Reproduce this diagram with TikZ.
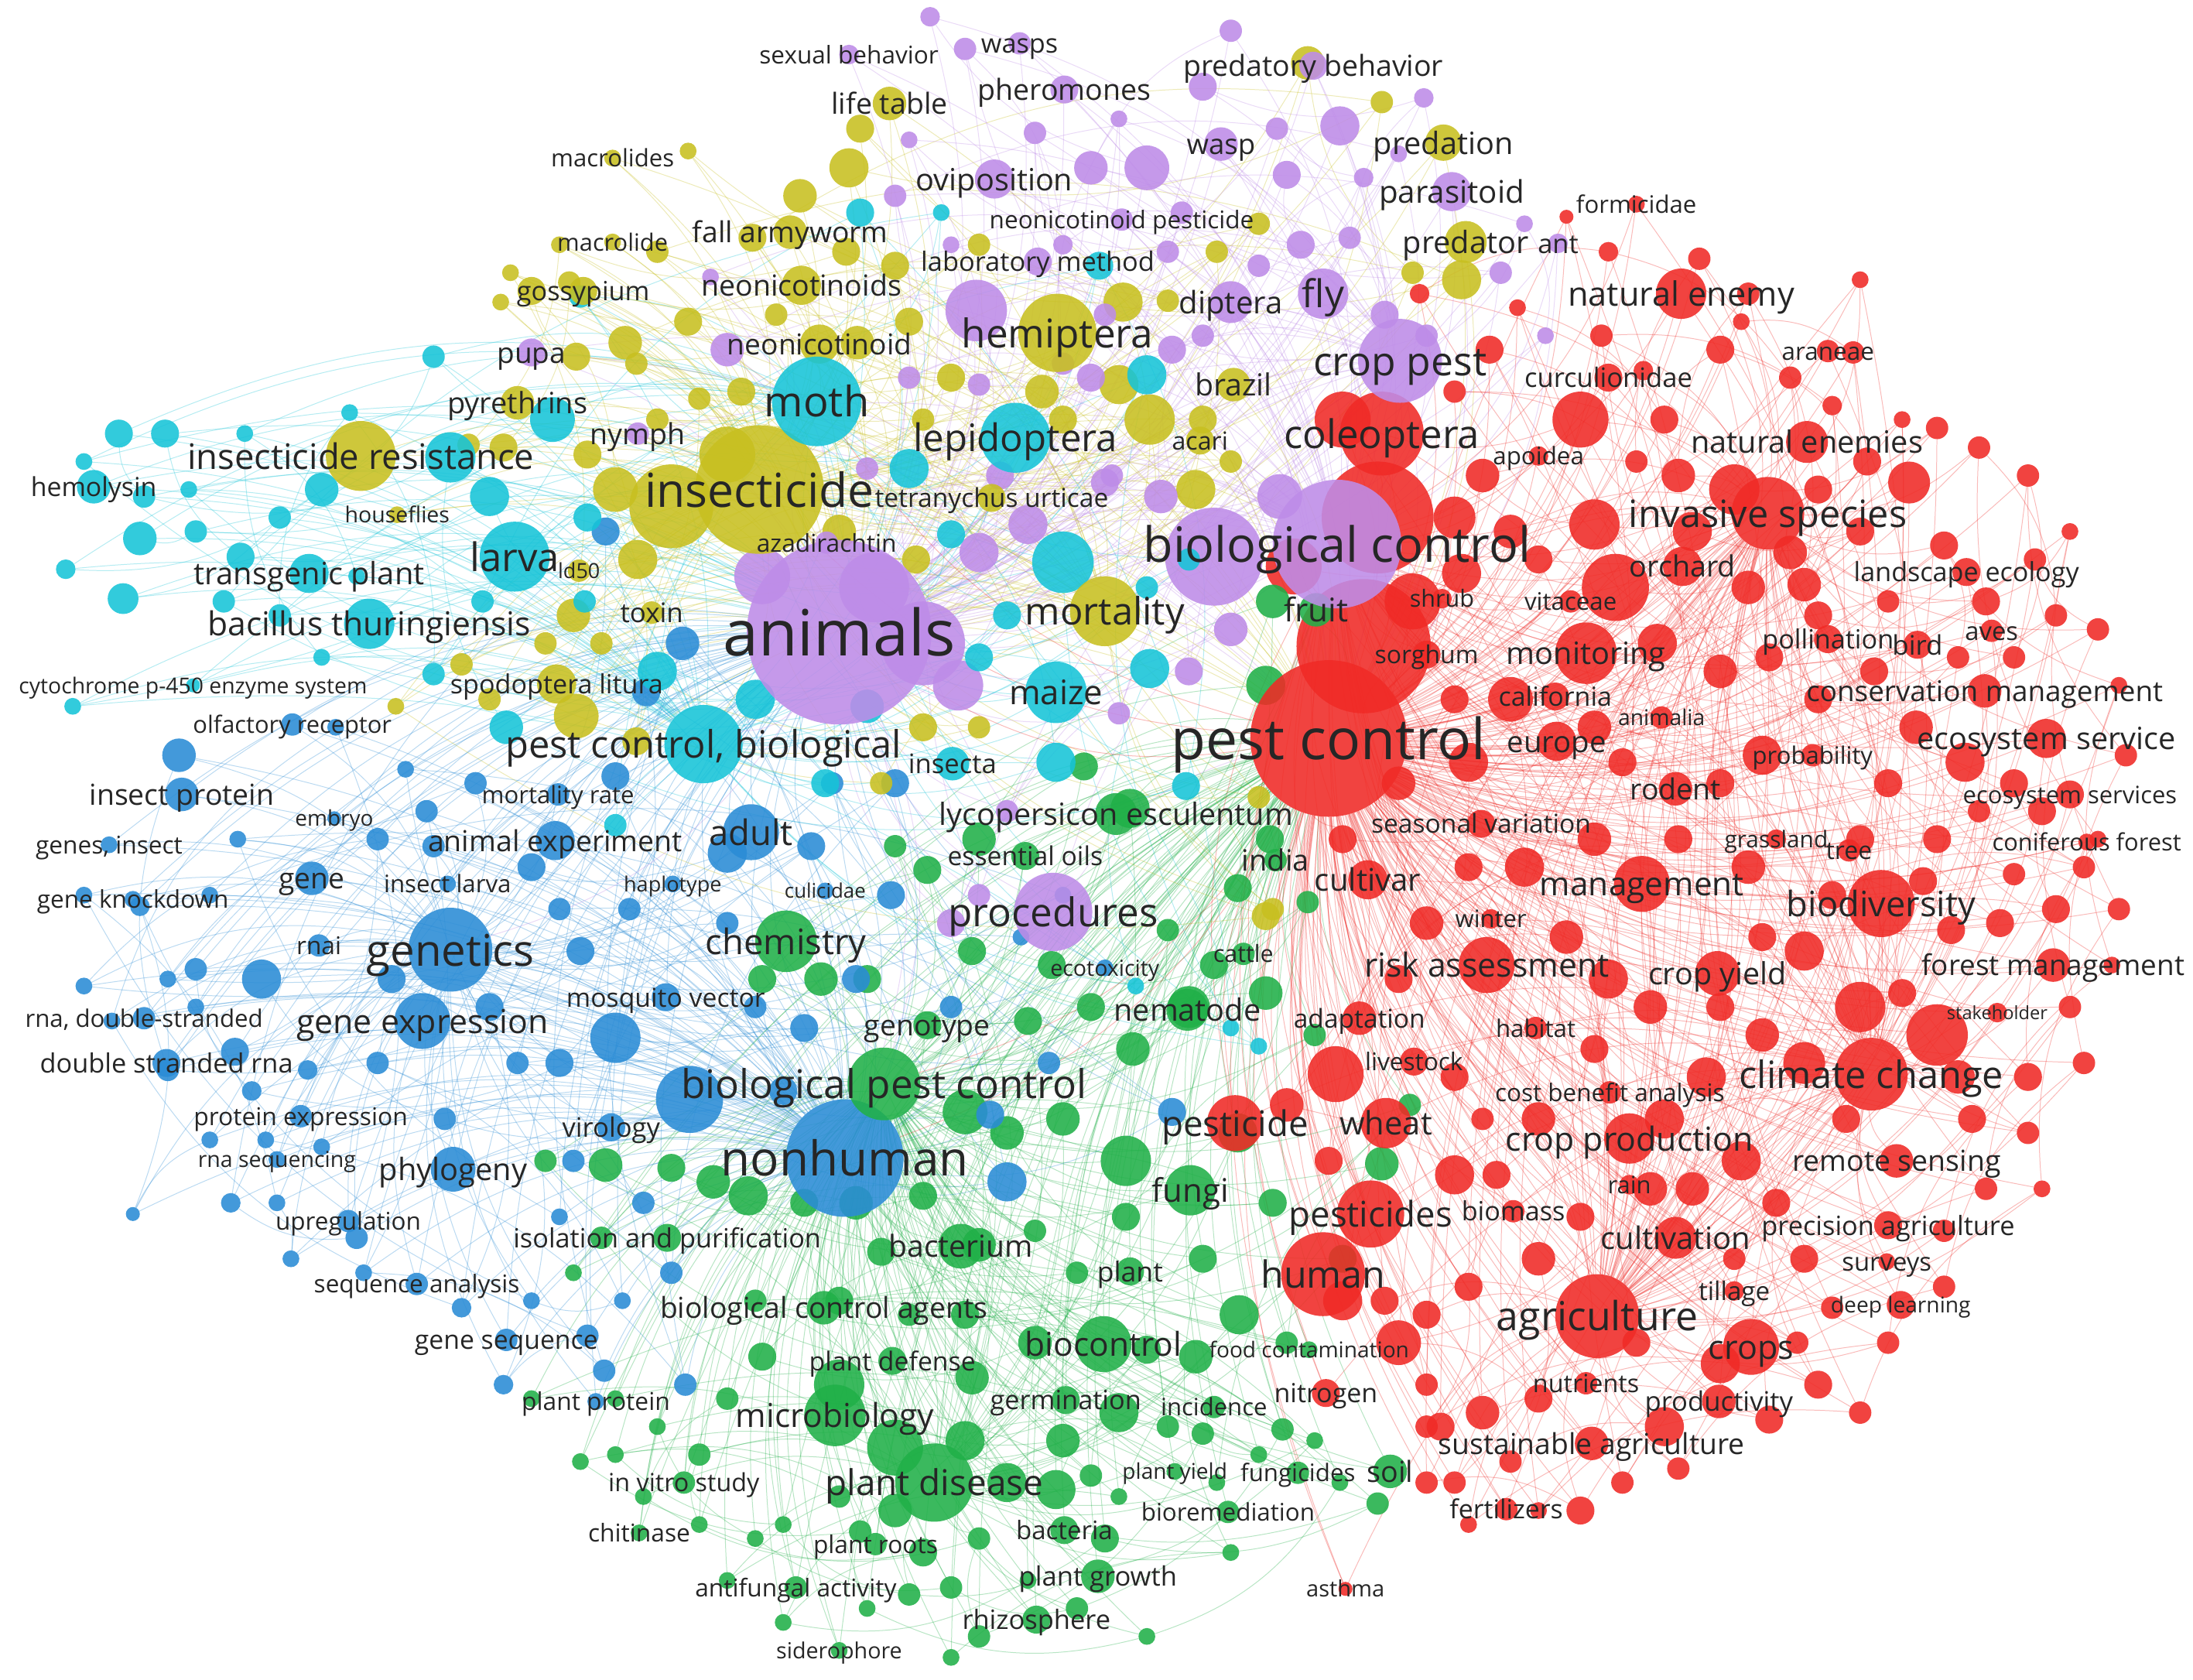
\documentclass[tikz,border=0pt]{standalone}
\usepackage{fontspec}
\setmainfont{Open Sans}
\usepackage{graphicx}
\definecolor{cR}{RGB}{240,42,38}
\definecolor{cG}{RGB}{32,176,72}
\definecolor{cB}{RGB}{42,140,214}
\definecolor{cY}{RGB}{200,192,32}
\definecolor{cP}{RGB}{190,140,232}
\definecolor{cC}{RGB}{22,196,216}
\pgfdeclarelayer{bg}\pgfdeclarelayer{edges}\pgfdeclarelayer{labels}
\pgfsetlayers{bg,edges,main,labels}
\tikzset{
 kw/.style={circle,inner sep=0pt,outer sep=0pt,draw=none,fill opacity=0.88},
 lab/.style={inner sep=0pt,outer sep=0pt,text=black!85,anchor=center},
 ed/.style={line width=0.55pt,draw opacity=0.32},
 arc/.style={bend left=20},
}
\newcommand\labbox[2]{\resizebox{#1 pt}{!}{\rule[-0.26em]{0pt}{1.26em}#2}}
\newcommand\unodes[2]{\foreach \x/\y/\r [count=\i] in #1 {\node[kw,fill=#2,minimum size=2*\r pt] (u#2\i) at (\x,\y) {};}}
\newcommand\uedges[5]{\foreach \x/\y/\r [count=\i] in #1 {%
    \draw[ed,#2] (u#2\i) to[arc] (#3);
    \ifodd\i \draw[ed,#2] (u#2\i) to[arc] (#4);\else \draw[ed,#2] (u#2\i) to[arc] (#5);\fi
    \ifnum\i>5 \pgfmathtruncatemacro\j{\i-5}\draw[ed,#2] (u#2\i) to[arc] (u#2\j);\fi}}
\newcommand\kwnodes[2]{\foreach \n/\x/\y/\r/\w/\t in #1 {\node[kw,fill=#2,minimum size=2*\r pt] (\n) at (\x,\y) {};}}
\newcommand\kwedges[3]{\foreach \n/\x/\y/\r/\w/\t in #1 {\foreach \h in {#3} {\draw[ed,#2] (\n) to[arc] (\h);}}}
\newcommand\kwlabels[1]{\foreach \n/\x/\y/\r/\w/\t in #1 {\node[lab] at (\n) {\labbox{\w}{\t}};}}
\def\hubs{pc/950/528/56/cR/225/pest control,
agr/1142/941/30/cR/144/agriculture,
cc/1338/768/26/cR/189/climate change,
ani/600/452/66/cP/166/animals,
biocon/956/389/46/cP/277/biological control,
ins/543/350/46/cY/164/insecticide,
moth/584/287/32/cC/75/moth,
pcb/503/532/28/cC/283/{pest control, biological},
nonh/604/828/42/cB/177/nonhuman,
gen/322/679/30/cB/120/genetics,
bpc/632/775/26/cG/290/biological pest control,
pdis/668/1060/28/cG/156/plant disease}
\def\kwR{formi/1170/146/6/86/formicidae,
nenemy/1202/210/18/162/natural enemy,
aran/1307/251/8/66/araneae,
curc/1150/270/10/120/curculionidae,
coleo/988/310/30/140/coleoptera,
apoi/1100/326/7/65/apoidea,
nenemies/1292/316/15/166/natural enemies,
inv/1264/367/26/199/invasive species,
orch/1203/405/14/76/orchard,
lands/1406/409/10/161/landscape ecology,
shrub/1031/428/7/46/shrub,
vita/1123/430/8/66/vitaceae,
monit/1134/467/22/114/monitoring,
sorg/1020/468/10/74/sorghum,
poll/1307/457/10/94/pollination,
bird/1371/461/10/36/bird,
aves/1424/451/8/38/aves,
calif/1112/498/10/81/california,
consm/1419/494/12/255/conservation management,
europe/1113/530/14/71/europe,
animalia/1188/513/8/62/animalia,
ecos/1463/528/14/185/ecosystem service,
prob/1296/540/8/86/probability,
rodent/1198/564/12/65/rodent,
ecoss/1480/568/10/153/ecosystem services,
seas/1059/589/10/157/seasonal variation,
grass/1270/600/7/74/grassland,
tree/1322/608/8/33/tree,
conif/1492/602/6/135/coniferous forest,
cultivar/978/629/14/76/cultivar,
manag/1174/632/20/146/management,
biodiv/1345/646/24/135/biodiversity,
winter/1066/657/7/51/winter,
risk/1063/690/20/175/risk assessment,
cyield/1228/696/16/99/crop yield,
forest/1468/690/12/188/forest management,
adapt/972/728/12/94/adaptation,
habitat/1098/735/8/57/habitat,
stake/1428/724/7/72/stakeholder,
lives/1011/759/10/70/livestock,
cba/1151/781/8/164/cost benefit analysis,
pesticide/883/803/20/105/pesticide,
wheat/991/803/18/66/wheat,
cprod/1165/814/18/177/crop production,
remote/1356/830/12/149/remote sensing,
rain/1165/847/7/31/rain,
pesticides/980/868/24/117/pesticides,
biomass/1082/866/8/74/biomass,
precag/1350/876/10/181/precision agriculture,
cultiv/1198/885/15/107/cultivation,
surveys/1349/902/6/64/surveys,
human/946/911/30/89/human,
tillage/1240/923/7/51/tillage,
deepl/1359/933/10/100/deep learning,
crops/1252/963/20/61/crops,
nitrogen/948/996/10/74/nitrogen,
nutr/1134/989/8/76/nutrients,
prodv/1229/1002/12/106/productivity,
susag/1138/1032/12/219/sustainable agriculture,
fert/1077/1079/8/81/fertilizers,
asthma/962/1136/5/56/asthma}
\def\kwP{sexb/607/39/7/128/sexual behavior,
wasps/729/31/8/55/wasps,
phero/761/64/10/124/pheromones,
predb/939/47/10/186/predatory behavior,
wasp/873/103/12/49/wasp,
ovip/711/128/14/112/oviposition,
paras/1038/137/14/104/parasitoid,
neopest/802/157/8/189/neonicotinoid pesticide,
labm/742/187/10/167/laboratory method,
dipt/880/216/15/74/diptera,
fly/946/210/18/30/fly,
cpest/1001/258/30/124/crop pest,
ant/1114/174/7/29/ant,
pupa/380/252/10/49/pupa,
nymph/456/310/8/68/nymph,
proc/753/652/28/150/procedures,
azad/591/388/8/100/azadirachtin}
\def\kwY{ltable/636/74/12/83/life table,
macs/438/113/6/88/macrolides,
mac/438/173/6/79/macrolide,
faw/565/166/12/140/fall armyworm,
goss/417/208/10/95/gossypium,
neos/573/204/14/143/neonicotinoids,
neo/586/246/14/132/neonicotinoid,
preda/1032/102/13/100/predation,
predr/1048/173/15/90/predator,
pyr/370/288/12/100/pyrethrins,
insr/258/326/25/248/insecticide resistance,
house/284/368/6/75/houseflies,
ld/414/408/8/30/ld50,
toxin/466/438/8/45/toxin,
mort/790/437/25/114/mortality,
acari/858/315/10/40/acari,
tetra/709/356/10/167/tetranychus urticae,
brazil/882/275/12/55/brazil,
spod/398/489/14/152/spodoptera litura,
hemi/756/238/28/137/hemiptera}
\def\kwC{lepi/726/313/25/146/lepidoptera,
hemol/67/348/12/90/hemolysin,
transg/221/410/14/165/transgenic plant,
larva/368/398/25/64/larva,
bt/264/446/18/231/bacillus thuringiensis,
cyto/138/490/5/249/cytochrome p-450 enzyme system,
maize/755/495/22/67/maize,
insecta/681/546/12/63/insecta}
\def\kwB{olf/209/518/8/142/olfactory receptor,
inprot/130/568/12/132/insect protein,
embryo/239/585/5/56/embryo,
mrate/399/568/8/109/mortality rate,
genesi/78/604/6/105/{genes, insect},
animexp/397/601/14/182/animal experiment,
adult/537/595/20/60/adult,
gene/223/628/12/47/gene,
inlarva/320/632/6/91/insect larva,
haplo/481/632/6/70/haplotype,
culic/590/637/6/58/culicidae,
gknock/95/643/6/137/gene knockdown,
rnai/228/676/8/32/rnai,
rnads/103/728/8/170/{rna, double-stranded},
gexp/302/730/20/180/gene expression,
mosq/476/713/10/142/mosquito vector,
dsrna/119/760/10/181/double stranded rna,
protexp/215/798/8/153/protein expression,
viro/437/806/10/70/virology,
rnaseq/198/829/6/113/rna sequencing,
phylo/324/836/16/106/phylogeny,
upreg/249/873/8/104/upregulation,
seqan/298/918/8/147/sequence analysis,
geneseq/362/958/8/131/gene sequence,
plprot/426/1002/6/106/plant protein,
ecotox/790/692/6/78/ecotoxicity}
\def\kwG{chem/562/673/22/115/chemistry,
genot/663/733/10/90/genotype,
lycop/798/582/15/253/lycopersicon esculentum,
essoil/733/612/10/111/essential oils,
india/912/615/8/48/india,
fruit/941/436/12/46/fruit,
isol/477/885/10/220/isolation and purification,
bacterium/687/891/16/103/bacterium,
plant/808/909/10/47/plant,
bca/589/935/12/234/biological control agents,
fungi/851/851/18/55/fungi,
nema/849/722/15/105/nematode,
cattle/889/682/8/43/cattle,
biocontrol/789/961/20/112/biocontrol,
pdef/638/973/10/119/plant defense,
foodc/936/965/6/143/food contamination,
germ/762/1001/10/108/germination,
incid/868/1006/8/76/incidence,
micro/597/1012/22/142/microbiology,
invitro/489/1060/8/108/in vitro study,
pyield/840/1052/6/75/plant yield,
fungic/928/1053/8/82/fungicides,
soil/994/1052/12/33/soil,
biorem/878/1081/8/124/bioremediation,
chit/457/1096/6/73/chitinase,
bacteria/761/1094/10/69/bacteria,
proots/626/1104/8/89/plant roots,
antif/569/1135/8/144/antifungal activity,
pgrowth/785/1127/12/113/plant growth,
rhizo/741/1158/10/106/rhizosphere,
sidero/600/1180/6/90/siderophore}
\def\uP{698/222/22, 665/12/7, 880/22/8, 860/62/10, 958/90/14, 913/92/8, 820/120/16, 780/120/12, 1018/70/7, 920/125/10, 975/127/7, 845/152/8, 1073/195/8, 965/170/8, 930/175/10, 900/190/8, 760/175/7, 838/250/10, 860/240/8, 520/250/12, 508/198/6, 690/35/8, 868/398/35, 830/355/12, 790/345/10, 735/375/14, 915/355/16, 660/460/30, 625/420/25, 545/412/20, 700/395/14, 685/490/18, 715/340/10, 780/270/10, 1105/240/6, 650/100/6, 740/95/8, 800/85/6, 1000/110/6, 1090/160/6, 835/180/8, 790/225/8, 760/260/8, 640/140/8, 680/175/6, 990/225/10, 1020/240/8, 650/270/8, 700/275/8, 880/450/12, 850/480/10, 800/510/8, 720/580/8, 700/640/8, 680/660/10, 795/340/8, 620/335/8}
\def\uY{607/120/14, 572/140/12, 492/108/6, 615/92/10, 935/45/12, 988/73/8, 1045/200/14, 803/216/14, 835/215/8, 1010/195/8, 538/170/10, 470/180/8, 447/245/12, 492/230/10, 613/245/12, 680/270/10, 800/275/14, 822/300/18, 855/350/14, 480/362/30, 520/325/20, 440/350/16, 456/400/14, 410/440/12, 360/320/10, 335/318/8, 380/208/10, 358/216/6, 365/195/6, 407/202/8, 400/175/6, 412/255/10, 455/260/8, 650/230/10, 640/190/10, 605/180/10, 700/175/8, 745/280/12, 760/300/10, 910/650/8, 900/570/8, 455/530/10, 412/512/16, 555/225/8, 530/280/10, 470/300/8, 420/325/10, 500/285/8, 660/300/8, 870/180/8, 900/160/8, 860/300/10, 880/330/8, 600/380/12, 655/400/10, 430/460/8, 390/460/8, 330/475/8, 283/505/6, 350/500/8, 660/520/10, 630/560/8, 700/520/8, 905/655/10}
\def\uC{85/310/10, 118/310/10, 100/385/12, 88/428/11, 47/407/7, 103/355/8, 172/398/10, 140/380/8, 200/370/8, 230/350/12, 322/327/18, 350/355/14, 395/300/16, 420/370/10, 310/255/8, 362/520/12, 418/430/8, 820/268/14, 760/402/22, 822/478/14, 848/562/10, 755/545/14, 880/735/6, 900/748/6, 812/705/6, 786/190/10, 650/335/14, 615/152/10, 415/212/8, 52/505/6, 310/482/8, 255/412/6, 345/430/8, 680/382/10, 673/152/6, 250/295/6, 175/310/6, 135/350/6, 60/330/6, 160/430/8, 200/440/8, 230/470/6, 470/480/14, 540/500/14, 620/505/12, 700/470/10, 850/400/8, 820/420/8, 720/440/10, 590/560/10, 440/590/8}
\def\uB{128/540/12, 140/693/8, 187/700/14, 168/752/10, 220/765/7, 120/765/8, 180/780/7, 318/800/8, 310/605/8, 380/620/10, 415/680/10, 440/742/18, 493/786/24, 520/610/14, 580/605/10, 637/640/10, 612/700/10, 720/845/14, 708/797/10, 410/830/8, 400/760/10, 440/555/10, 488/460/12, 462/495/10, 433/380/10, 575/735/10, 520/660/8, 490/990/8, 432/980/8, 165/860/7, 208/900/6, 150/815/6, 190/815/6, 260/910/6, 255/885/8, 198/860/6, 95/868/5, 270/600/8, 305/580/8, 240/520/6, 60/640/6, 100/648/7, 60/705/6, 120/700/6, 80/730/6, 420/955/8, 380/930/6, 640/560/10, 595/560/8, 330/935/7, 360/990/7, 445/930/6, 480/910/8, 838/795/10, 350/720/10, 370/760/8, 270/760/8, 280/700/10, 400/650/8, 450/650/8, 540/720/8, 560/780/10, 680/720/8, 750/760/8, 760/640/6, 730/670/6, 340/560/8, 290/550/6, 170/600/6, 150/640/6, 230/820/6, 140/720/6, 460/860/8, 400/870/6}
\def\uG{910/430/12, 905/490/14, 808/578/14, 775/548/10, 663/622/10, 700/600/12, 640/605/8, 620/700/10, 587/700/12, 545/700/10, 695/680/10, 752/690/10, 735/730/10, 780/720/10, 810/750/12, 850/720/15, 868/690/10, 905/710/12, 835/665/8, 885/635/10, 935/645/8, 908/600/10, 690/795/16, 720/810/12, 760/800/12, 805/830/18, 885/810/14, 910/860/10, 886/940/14, 433/833/12, 480/835/10, 510/845/12, 535/855/14, 575/860/10, 612/860/12, 660/855/10, 700/890/12, 740/880/8, 770/910/8, 430/885/8, 390/830/8, 545/970/10, 600/990/18, 640/1035/20, 690/1030/14, 695/985/12, 740/960/12, 760/1030/12, 800/1010/14, 820/965/10, 855/970/12, 835/1020/8, 720/1060/14, 755/1065/14, 780/1055/8, 640/1080/12, 600/1070/8, 520/1000/8, 500/1040/8, 470/1020/6, 440/1040/6, 415/1045/6, 460/1070/6, 500/1090/6, 540/1100/6, 560/1090/6, 615/1095/8, 660/1110/10, 700/1100/8, 680/1135/8, 650/1140/8, 620/1150/6, 560/1160/6, 700/1170/8, 770/1150/8, 790/1100/10, 820/1170/6, 735/1130/6, 860/1025/8, 917/1022/8, 985/1075/8, 958/1060/6, 940/1030/6, 900/1040/6, 600/930/10, 650/940/8, 690/940/10, 630/895/10, 540/930/8, 940/740/8, 988/832/12, 1008/790/8, 960/900/10, 860/900/10, 805/870/10, 920/960/8, 870/1060/6, 800/1070/6, 880/1110/6, 410/910/6, 380/1000/6, 440/1000/6, 520/1130/6, 680/1185/6}
\def\uR{985/370/40, 975/462/48, 925/405/20, 1010/430/20, 960/300/20, 1060/340/12, 1040/370/15, 1080/380/12, 1045/410/14, 1130/300/20, 1140/375/18, 1155/420/24, 1100/400/10, 1185/460/14, 1210/380/14, 1240/350/18, 1280/395/12, 1300/350/10, 1365/345/15, 1330/380/10, 1385/306/8, 1335/330/10, 1250/420/12, 1290/418/12, 1230/480/12, 1265/470/10, 1230/250/10, 1215/185/8, 1250/210/8, 1280/270/8, 1310/290/7, 1190/300/10, 1170/330/8, 1200/340/12, 1150/180/7, 1145/240/8, 1085/220/6, 1040/280/8, 1065/250/10, 1015/210/7, 1330/600/10, 1350/560/10, 1405/545/14, 1370/520/12, 1440/560/10, 1460/580/10, 1415/580/8, 1385/600/10, 1440/625/8, 1490/620/8, 1470/650/10, 1430/660/10, 1395/665/10, 1375/630/10, 1310/640/10, 1290/680/14, 1260/670/10, 1250/620/12, 1330/720/18, 1385/740/22, 1360/710/10, 1400/770/12, 1410/800/10, 1450/810/8, 1320/800/10, 1290/760/15, 1260/740/12, 1230/720/10, 1220/770/14, 1190/800/14, 1245/830/14, 1210/850/12, 1270/860/10, 1290/900/10, 1240/900/8, 1310/935/8, 1285/960/8, 1300/990/10, 1265/1015/10, 1230/975/14, 1190/1020/14, 1170/960/10, 1100/1000/10, 1060/1010/12, 1020/1020/8, 1080/1045/8, 1040/1060/8, 1000/960/16, 1020/940/10, 1050/920/10, 1100/900/12, 1130/870/10, 1180/850/12, 1070/840/10, 1040/840/14, 1100/800/12, 1140/750/10, 1180/720/12, 1150/700/14, 1120/670/12, 1090/620/14, 1140/600/12, 1050/620/10, 1020/660/12, 1000/700/10, 955/768/20, 920/790/12, 950/830/10, 1040/770/10, 1060/800/8, 960/600/10, 1000/560/12, 1050/545/14, 1080/500/16, 1040/500/10, 1160/545/10, 1140/520/12, 1200/600/10, 1230/560/10, 1260/540/14, 1300/500/10, 1340/480/10, 1300/440/10, 1350/430/8, 1400/470/8, 1440/470/8, 1470/440/8, 1420/430/10, 1455/400/8, 1390/390/10, 1450/340/8, 1415/320/8, 1480/380/6, 1500/450/8, 1515/490/6, 1520/540/8, 1500/600/6, 1515/650/8, 1480/720/8, 1510/690/6, 1490/760/8, 1450/770/10, 1460/850/6, 1420/850/8, 1390/880/8, 1390/920/8, 1350/960/8, 1330/1010/8, 1130/1080/10, 1160/1060/8, 1200/1050/8, 1100/1080/6, 1050/1090/6, 1020/1060/8, 1325/252/8, 1330/200/6, 1360/300/6, 1175/265/7, 1120/155/5, 1245/230/6, 1030/1020/10, 960/930/14, 990/930/10, 1020/990/8}
\begin{document}
\begin{tikzpicture}[x=1pt,y=-1pt]
\begin{pgfonlayer}{bg}
\fill[white] (0,0) rectangle (1568,1201);
\end{pgfonlayer}
\useasboundingbox (0,0) rectangle (1568,1201);
% unlabeled circles
\unodes{\uR}{cR}\unodes{\uG}{cG}\unodes{\uB}{cB}\unodes{\uY}{cY}\unodes{\uP}{cP}\unodes{\uC}{cC}
% labeled circles
\kwnodes{\kwR}{cR}\kwnodes{\kwG}{cG}\kwnodes{\kwB}{cB}\kwnodes{\kwY}{cY}\kwnodes{\kwP}{cP}\kwnodes{\kwC}{cC}
\foreach \n/\x/\y/\r/\c/\w/\t in \hubs {\node[kw,fill=\c,minimum size=2*\r pt] (\n) at (\x,\y) {};}
% edges
\begin{pgfonlayer}{edges}
\uedges{\uR}{cR}{pc}{agr}{inv}
\uedges{\uG}{cG}{bpc}{pdis}{pc}
\uedges{\uB}{cB}{nonh}{gen}{ani}
\uedges{\uY}{cY}{ins}{ani}{mort}
\uedges{\uP}{cP}{ani}{biocon}{cpest}
\uedges{\uC}{cC}{pcb}{moth}{ani}
\kwedges{\kwR}{cR}{pc,biocon,cc}
\kwedges{\kwP}{cP}{ani,biocon,pc}
\kwedges{\kwY}{cY}{ins,ani,pc}
\kwedges{\kwC}{cC}{pcb,ani,ins}
\kwedges{\kwB}{cB}{nonh,gen,ani}
\kwedges{\kwG}{cG}{bpc,pc,nonh}
\foreach \a/\b in {pc/ani,pc/biocon,pc/ins,pc/agr,pc/cc,pc/bpc,pc/nonh,pc/moth,agr/cc}{\draw[ed,cR] (\a) to[arc] (\b);}
\foreach \a/\b in {ani/biocon,ani/ins,ani/nonh,ani/moth,ani/pcb,ani/gen,ani/bpc}{\draw[ed,cP] (\a) to[arc] (\b);}
\foreach \a/\b in {ins/moth,ins/pcb,ins/biocon}{\draw[ed,cY] (\a) to[arc] (\b);}
\foreach \a/\b in {nonh/gen,nonh/bpc,nonh/pcb,gen/pcb}{\draw[ed,cB] (\a) to[arc] (\b);}
\foreach \a/\b in {bpc/pdis,pdis/nonh,pdis/pc}{\draw[ed,cG] (\a) to[arc] (\b);}
\end{pgfonlayer}
% labels
\begin{pgfonlayer}{labels}
\kwlabels{\kwR}\kwlabels{\kwG}\kwlabels{\kwB}\kwlabels{\kwY}\kwlabels{\kwP}\kwlabels{\kwC}
\foreach \n/\x/\y/\r/\c/\w/\t in \hubs {\node[lab] at (\n) {\labbox{\w}{\t}};}
\end{pgfonlayer}
\end{tikzpicture}
\end{document}
